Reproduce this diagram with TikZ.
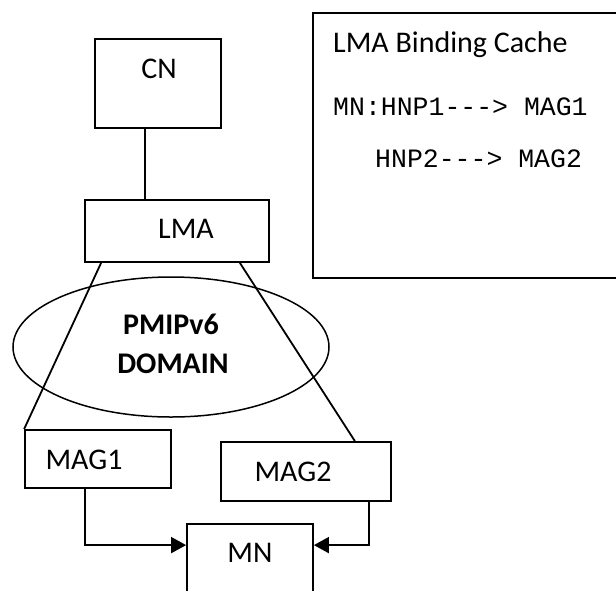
\documentclass[tikz,border=0pt]{standalone}
\usepackage{fontspec}
\setmainfont{Carlito}
\newfontfamily\codefont{Liberation Mono}
\usetikzlibrary{arrows.meta,shapes.geometric}

\tikzset{
  box/.style={draw, line width=1.8pt, inner sep=0pt, rectangle},
  lbl/.style={anchor=base, inner sep=0pt, font=\fontsize{30}{36}\selectfont},
  code/.style={anchor=base west, inner sep=0pt, font=\codefont\fontsize{26.5}{32}\selectfont},
  link/.style={line width=1.8pt},
  arr/.style={line width=1.8pt, -{Triangle[length=15pt,width=16pt]}}
}

\begin{document}
\begin{tikzpicture}[x=1pt,y=-1pt]
  \useasboundingbox (0,0) rectangle (616,590);

  % entity boxes
  \node[box, minimum width=126pt, minimum height=89pt] (cn)  at (158,83.5) {};
  \node[box, minimum width=184pt, minimum height=62pt] (lma) at (177,231) {};
  \node[box, minimum width=146pt, minimum height=58pt] (mag1) at (98,459) {};
  \node[box, minimum width=170pt, minimum height=59pt] (mag2) at (306,471.5) {};
  \node[box, minimum width=126pt, minimum height=96pt] (mn)  at (250,572) {};

  % box labels
  \node[lbl] (cnt)   at (159,78)  {CN};
  \node[lbl] (lmat)  at (186,238) {LMA};
  \node[lbl] (mag1t) at (84,469)  {MAG1};
  \node[lbl] (mag2t) at (293,481) {MAG2};
  \node[lbl] (mnt)   at (250,562) {MN};

  % PMIPv6 domain
  \node[draw, ellipse, line width=1.5pt, inner sep=0pt,
        minimum width=316pt, minimum height=140pt] (dom) at (171,347) {};
  \node[lbl, font=\fontsize{30}{36}\selectfont\bfseries] (domt1) at (171,334) {PMIPv6};
  \node[lbl, font=\fontsize{30}{36}\selectfont\bfseries] (domt2) at (173,373) {DOMAIN};

  % binding cache panel
  \node[box, minimum width=312pt, minimum height=265pt] (cache) at (469,145.5) {};
  \node[lbl, anchor=base west] (cachet) at (333,52) {LMA Binding Cache};
  \node[code] (row1) at (333,115) {MN:HNP1---> MAG1};
  \node[code] (row2) at (375,167) {HNP2---> MAG2};

  % connectors
  \draw[link] ([xshift=-13pt]cn.south) -- ([xshift=-32pt]lma.north);
  \draw[link] ([xshift=17pt]lma.south west) -- (mag1.north west);
  \draw[link] ([xshift=-30pt]lma.south east) -- ([xshift=-37pt]mag2.north east);
  \draw[arr] ([xshift=-13pt]mag1.south) |- ([yshift=-22pt]mn.north west);
  \draw[arr] ([xshift=63pt]mag2.south) |- ([yshift=-22pt]mn.north east);
\end{tikzpicture}
\end{document}
